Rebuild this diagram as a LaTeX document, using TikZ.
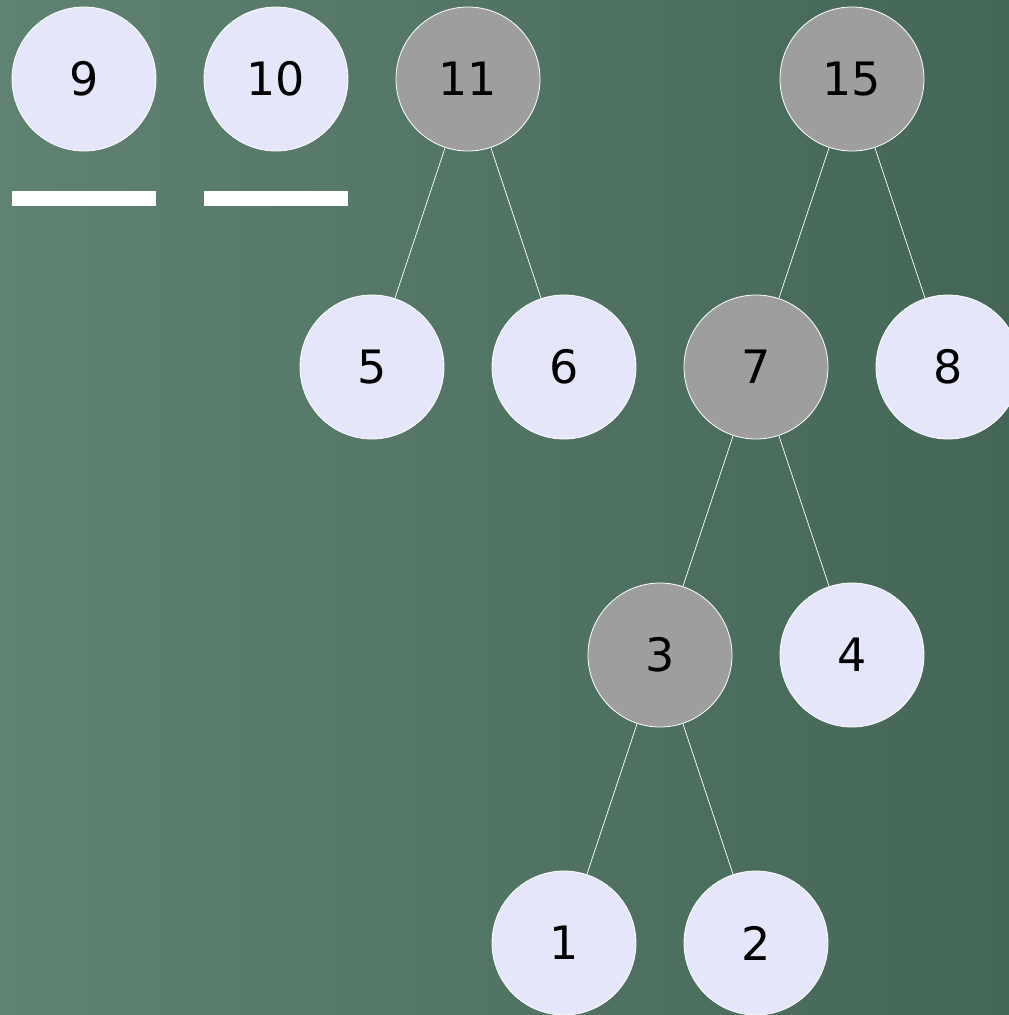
\documentclass[tikz,border=0pt]{standalone}
\usepackage{fontspec}
\setmainfont{DejaVu Sans}
\definecolor{bgleft}{RGB}{96,130,114}
\definecolor{bgright}{RGB}{68,102,86}
\definecolor{light}{RGB}{230,230,250}
\definecolor{dark}{RGB}{158,158,158}
\begin{document}
\begin{tikzpicture}[x=1pt,y=-1pt,
  nd/.style={circle,minimum size=144pt,inner sep=0pt,draw=white,line width=0.8pt,font=\fontsize{46}{54}\selectfont,text=black},
  lt/.style={nd,fill=light},
  dk/.style={nd,fill=dark},
  edge/.style={draw=white,line width=0.7pt}]
\shade[left color=bgleft,right color=bgright] (0,0) rectangle (1009,1015);
\useasboundingbox (0,0) rectangle (1009,1015);
\node[lt] (n9) at (84,79) {9};
\node[lt] (n10) at (276,79) {10};
\node[dk] (n11) at (468,79) {11};
\node[dk] (n15) at (852,79) {15};
\node[lt] (n5) at (372,367) {5};
\node[lt] (n6) at (564,367) {6};
\node[dk] (n7) at (756,367) {7};
\node[lt] (n8) at (948,367) {8};
\node[dk] (n3) at (660,655) {3};
\node[lt] (n4) at (852,655) {4};
\node[lt] (n1) at (564,943) {1};
\node[lt] (n2) at (756,943) {2};
\fill[white] (12,191) rectangle (156,206);
\fill[white] (204,191) rectangle (348,206);
\draw[edge] (n11) -- (n5);
\draw[edge] (n11) -- (n6);
\draw[edge] (n15) -- (n7);
\draw[edge] (n15) -- (n8);
\draw[edge] (n7) -- (n3);
\draw[edge] (n7) -- (n4);
\draw[edge] (n3) -- (n1);
\draw[edge] (n3) -- (n2);
\end{tikzpicture}
\end{document}
